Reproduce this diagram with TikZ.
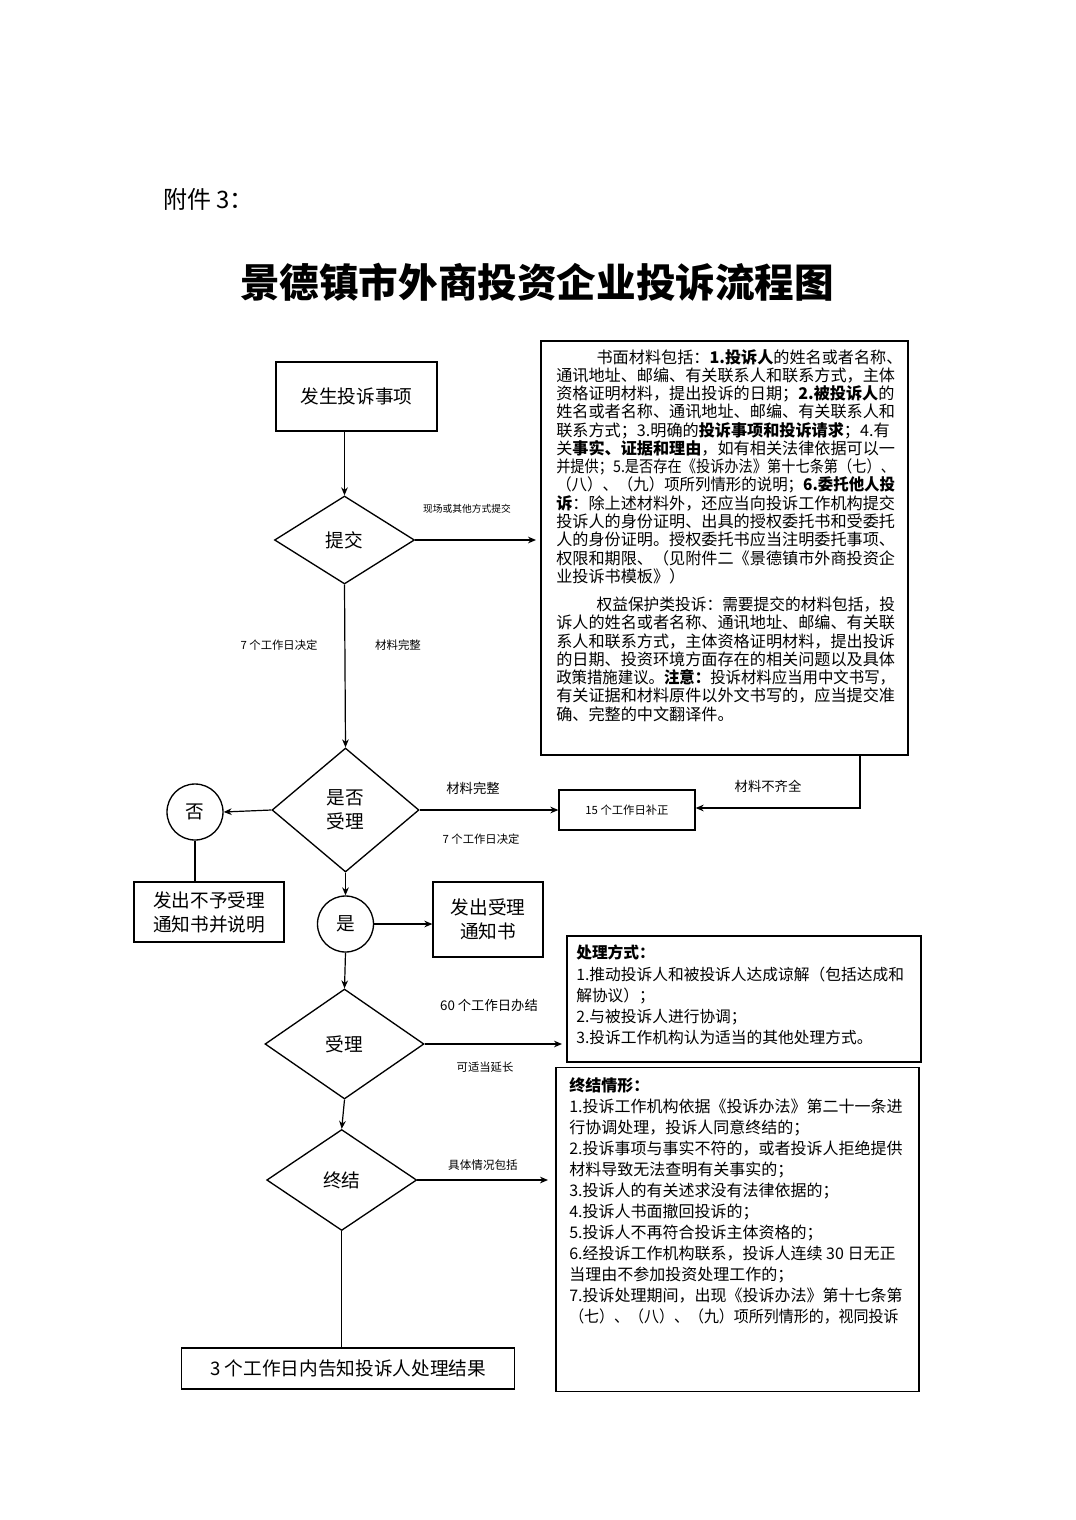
\documentclass[tikz,border=0pt]{standalone}
\usepackage{fontspec}
\usepackage{graphicx}
\setmainfont{Noto Sans CJK SC}
\usetikzlibrary{shapes.geometric,arrows.meta}
\newcommand{\fitw}[2]{\resizebox{#1}{\height}{#2}}
\newcommand{\fsz}[2]{\fontsize{#1}{#2}\selectfont}
\begin{document}
\begin{tikzpicture}[x=0.75pt,y=-0.75pt,
  boxn/.style={draw,line width=1pt,inner sep=0pt},
  dia/.style={draw,diamond,line width=1pt,inner sep=0pt},
  circ/.style={draw,circle,line width=1pt,inner sep=0pt,minimum size=56*0.75pt},
  arr/.style={-{Stealth[length=6pt,width=5pt]},line width=0.9pt},
  ln/.style={line width=0.9pt},
  txt/.style={inner sep=0pt,align=left},
  lbl/.style={inner sep=0pt},
  mainf/.style={font=\fsz{14}{18}}]
\useasboundingbox (0,0) rectangle (1075,1520);
\fill[white] (0,0) rectangle (1075,1520);

% headings
\node[lbl,anchor=west,font=\fsz{18}{20}] (fj) at (163,199) {附件 3：};
\node[lbl,font=\fsz{29.7}{32}\bfseries] (title) at (537,282) {景德镇市外商投资企业投诉流程图};

% main flow
\node[boxn,mainf,minimum width=161*0.75pt,minimum height=69*0.75pt] (fs) at (356.5,396.5) {发生投诉事项};
\node[dia,mainf,minimum width=140*0.75pt,minimum height=88*0.75pt] (tj) at (344.5,540) {提交};
\node[dia,mainf,align=center,minimum width=147*0.75pt,minimum height=124*0.75pt] (sf) at (345.5,810) {是否\\受理};
\node[circ,mainf] (fou) at (195,812) {否};
\node[boxn,mainf,align=center,minimum width=150*0.75pt,minimum height=60*0.75pt] (by) at (209,912) {发出不予受理\\通知书并说明};
\node[boxn,font=\fsz{8.5}{10},minimum width=136*0.75pt,minimum height=40*0.75pt] (bz) at (627,810) {15 个工作日补正};
\node[circ,mainf] (shi) at (345.5,924) {是};
\node[boxn,mainf,align=center,minimum width=110*0.75pt,minimum height=75*0.75pt] (tz) at (488,919.5) {发出受理\\通知书};
\node[dia,mainf,minimum width=159*0.75pt,minimum height=110*0.75pt] (sl) at (344.5,1044) {受理};
\node[dia,mainf,minimum width=150*0.75pt,minimum height=101*0.75pt] (zj) at (341.7,1180) {终结};
\node[boxn,mainf,minimum width=333*0.75pt,minimum height=41*0.75pt] (res) at (348.3,1368.5) {3 个工作日内告知投诉人处理结果};

% big text boxes
\node[boxn,minimum width=367*0.75pt,minimum height=414*0.75pt] (big) at (724.5,548) {};
\node[boxn,minimum width=354*0.75pt,minimum height=126*0.75pt] (cl) at (744,999) {};
\node[boxn,minimum width=363*0.75pt,minimum height=324*0.75pt] (zq) at (737.5,1229.5) {};

\node[txt,anchor=north west,font=\fsz{12.1}{13.7}] (bigtxt) at (556,349) {%
\hspace*{2.5em}书面材料包括：\textbf{1.投诉人}的姓名或者名称、\\
通讯地址、邮编、有关联系人和联系方式，主体\\
资格证明材料，提出投诉的日期；\textbf{2.被投诉人}的\\
姓名或者名称、通讯地址、邮编、有关联系人和\\
联系方式；3.明确的\textbf{投诉事项和投诉请求}；4.有\\
关\textbf{事实、证据和理由}，如有相关法律依据可以一\\
\fitw{21em}{并提供；5.是否存在《投诉办法》第十七条第（七）、}\\
\fitw{21em}{（八）、（九）项所列情形的说明；\textbf{6.委托他人投}}\\
\textbf{诉}：除上述材料外，还应当向投诉工作机构提交\\
投诉人的身份证明、出具的授权委托书和受委托\\
人的身份证明。授权委托书应当注明委托事项、\\
权限和期限、（见附件二《景德镇市外商投资企\\
业投诉书模板》）\\[7.5pt]
\hspace*{2.5em}\fitw{18.5em}{权益保护类投诉：需要提交的材料包括，投}\\
诉人的姓名或者名称、通讯地址、邮编、有关联\\
系人和联系方式，主体资格证明材料，提出投诉\\
的日期、投资环境方面存在的相关问题以及具体\\
\fitw{21em}{政策措施建议。\textbf{注意：}投诉材料应当用中文书写，}\\
有关证据和材料原件以外文书写的，应当提交准\\
确、完整的中文翻译件。};

\node[txt,anchor=north west,font=\fsz{11.8}{15.9}] (cltxt) at (576,945) {%
\textbf{处理方式：}\\
1.推动投诉人和被投诉人达成谅解（包括达成和\\
解协议）；\\
2.与被投诉人进行协调；\\
3.投诉工作机构认为适当的其他处理方式。};

\node[txt,anchor=north west,font=\fsz{12}{15.75}] (zqtxt) at (569,1077) {%
\textbf{终结情形：}\\
1.投诉工作机构依据《投诉办法》第二十一条进\\
行协调处理，投诉人同意终结的；\\
2.投诉事项与事实不符的，或者投诉人拒绝提供\\
材料导致无法查明有关事实的；\\
3.投诉人的有关述求没有法律依据的；\\
4.投诉人书面撤回投诉的；\\
5.投诉人不再符合投诉主体资格的；\\
6.经投诉工作机构联系，投诉人连续 30 日无正\\
当理由不参加投资处理工作的；\\
7.投诉处理期间，出现《投诉办法》第十七条第\\
\fitw{247pt}{（七）、（八）、（九）项所列情形的，视同投诉}};

% coordinates for free ends
\coordinate (tjend) at (536,540);
\coordinate (bigdn) at (860,755);
\coordinate (bigcorner) at (860,808);
\coordinate (slend) at (562,1044);
\coordinate (zjend) at (548,1180);

% connectors
\draw[arr] (tj.north |- fs.south) -- (tj.north);
\draw[arr] (tj.east) -- (tjend);
\draw[arr] (tj.south) -- (sf.north);
\draw[arr] (sf.west) -- (fou.east);
\draw[ln] (fou.south) -- (fou.south |- by.north);
\draw[arr] (sf.east) -- (bz.west);
\draw[arr] (bigdn) -- (bigcorner) -- (bigcorner -| bz.east);
\draw[arr] (sf.south) -- (shi.north);
\draw[arr] (shi.east) -- (shi.east -| tz.west);
\draw[arr] (shi.south) -- (sl.north);
\draw[arr] (sl.east) -- (slend);
\draw[arr] (sl.south) -- (zj.north);
\draw[arr] (zj.east) -- (zjend);
\draw[ln] (zj.south) -- (zj.south |- res.north);

% connector labels
\node[lbl,font=\fsz{7.3}{9}] (l1) at (467,509) {现场或其他方式提交};
\node[lbl,font=\fsz{8.5}{10}] (l2) at (279,645) {7 个工作日决定};
\node[lbl,font=\fsz{8.6}{10}] (l3) at (398,645) {材料完整};
\node[lbl,font=\fsz{10}{12}] (l4) at (473,788) {材料完整};
\node[lbl,font=\fsz{8.5}{10}] (l5) at (481,839) {7 个工作日决定};
\node[lbl,font=\fsz{10}{12}] (l6) at (768,786) {材料不齐全};
\node[lbl,font=\fsz{10}{12}] (l7) at (489,1005) {60 个工作日办结};
\node[lbl,font=\fsz{8.5}{10}] (l8) at (485,1067) {可适当延长};
\node[lbl,font=\fsz{8.7}{10}] (l9) at (483,1165) {具体情况包括};
\end{tikzpicture}
\end{document}
